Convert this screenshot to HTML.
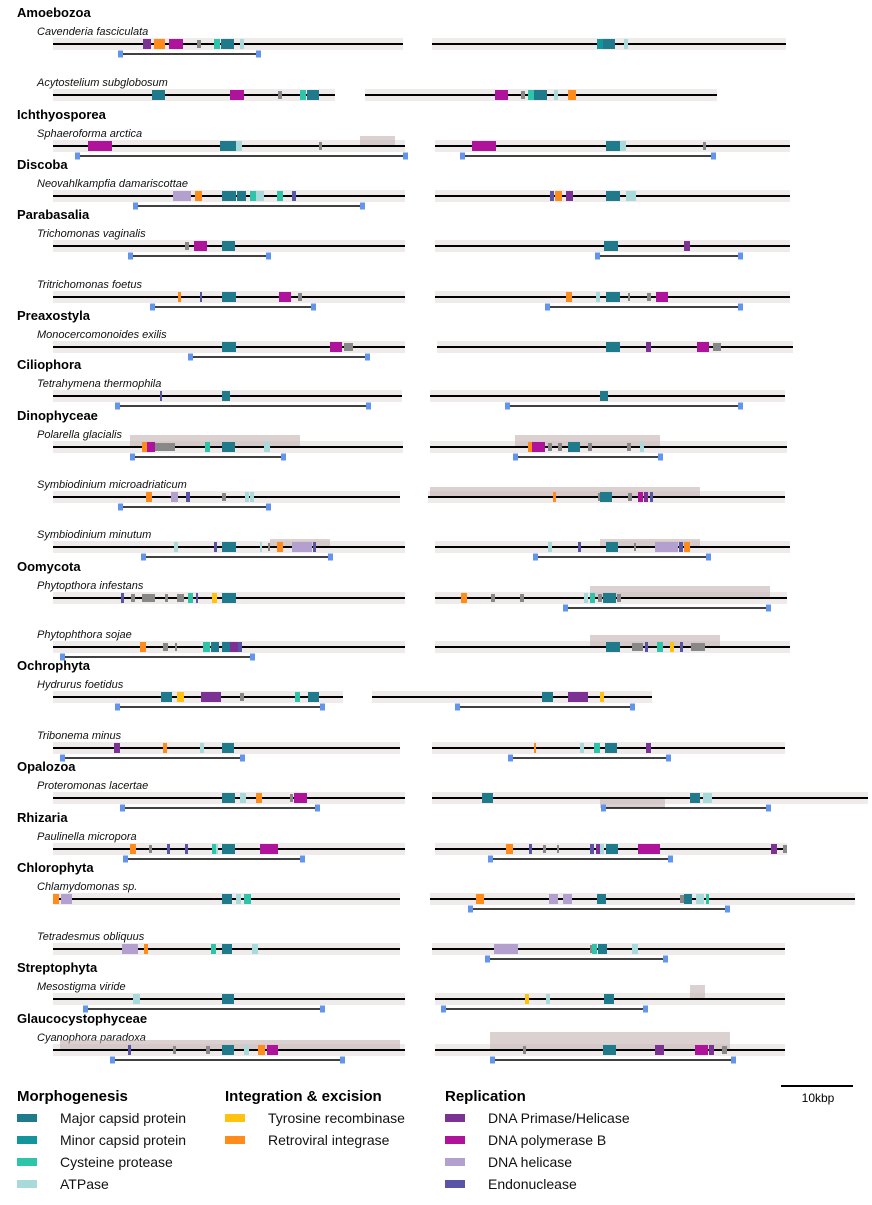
<!DOCTYPE html>
<html><head><meta charset="utf-8"><style>
body{margin:0;background:#fff;font-family:"Liberation Sans",Arial,sans-serif}
svg text{font-family:"Liberation Sans",Arial,sans-serif}
</style></head><body>
<svg id="fig" width="872" height="1200" xmlns="http://www.w3.org/2000/svg"></svg>
<script>
const colors={M:'#1f7a8c',m:'#14959b',C:'#2ec4aa',A:'#a8dadc',T:'#ffc20e',I:'#ff8c1a',P:'#7b3294',B:'#b0139b',H:'#b3a0cf',E:'#5a54a6',G:'#888888'};
const groups=['Amoebozoa','','Ichthyosporea','Discoba','Parabasalia','','Preaxostyla','Ciliophora','Dinophyceae','','','Oomycota','','Ochrophyta','','Opalozoa','Rhizaria','Chlorophyta','','Streptophyta','Glaucocystophyceae'];
const species=['Cavenderia fasciculata','Acytostelium subglobosum','Sphaeroforma arctica','Neovahlkampfia damariscottae','Trichomonas vaginalis','Tritrichomonas foetus','Monocercomonoides exilis','Tetrahymena thermophila','Polarella glacialis','Symbiodinium microadriaticum','Symbiodinium minutum','Phytopthora infestans','Phytophthora sojae','Hydrurus foetidus','Tribonema minus','Proteromonas lacertae','Paulinella micropora','Chlamydomonas sp.','Tetradesmus obliquus','Mesostigma viride','Cyanophora paradoxa'];
const lineY=[44,95,146,196,246,297,347,396,447,497,547,598,647,697,748,798,849,899,949,999,1050];
const leftExt=[[53,403],[53,335],[53,405],[53,405],[53,405],[53,405],[53,405],[53,402],[53,403],[53,400],[53,405],[53,405],[53,405],[53,343],[53,400],[53,405],[53,405],[53,400],[53,400],[53,405],[53,405]];
const rightExt=[[432,786],[365,717],[435,790],[435,790],[435,790],[435,790],[437,793],[430,785],[430,787],[428,785],[435,790],[435,787],[435,790],[372,652],[432,785],[432,868],[435,787],[430,855],[432,785],[435,785],[435,785]];
const brackets=[[[120,258]],[],[[77,405],[462,713]],[[135,362]],[[130,268],[597,740]],[[152,313],[547,740]],[[190,367]],[[117,368],[507,740]],[[132,283],[515,660]],[[120,268]],[[143,330],[535,708]],[[565,768]],[[62,252]],[[117,322],[457,632]],[[62,242],[510,668]],[[122,317],[603,768]],[[125,302],[490,670]],[[470,727]],[[487,665]],[[85,322],[443,645]],[[112,342],[492,733]]];
const dense=[[],[],[[360,395,10]],[],[],[],[],[],[[130,300,12],[515,660,12]],[[430,700,10]],[[270,330,8],[600,700,8]],[[590,770,12]],[[590,720,12]],[],[],[[600,665,-10]],[],[],[],[[690,705,14]],[[60,400,10],[490,730,18]]];
const genes=[
[[143,151,'P'],[154,165,'I'],[169,183,'B'],[197,201,'G'],[214,220,'C'],[221,234,'M'],[240,244,'A'],[597,603,'m'],[603,615,'M'],[624,628,'A']],
[[152,165,'M'],[230,244,'B'],[278,282,'G'],[300,306,'C'],[307,319,'M'],[495,508,'B'],[521,525,'G'],[528,534,'C'],[534,547,'M'],[554,558,'A'],[568,576,'I']],
[[88,112,'B'],[220,236,'M'],[236,242,'A'],[319,322,'G'],[472,496,'B'],[606,620,'M'],[620,626,'A'],[703,706,'G']],
[[173,191,'H'],[195,202,'I'],[222,236,'M'],[237,246,'M'],[250,256,'C'],[256,264,'A'],[277,283,'C'],[292,296,'E'],[550,554,'E'],[555,562,'I'],[566,573,'P'],[606,620,'M'],[626,636,'A']],
[[185,189,'G'],[194,207,'B'],[222,235,'M'],[604,618,'M'],[684,690,'P']],
[[178,181,'I'],[200,202,'E'],[222,236,'M'],[279,291,'B'],[298,302,'G'],[566,572,'I'],[596,600,'A'],[606,620,'M'],[628,630,'G'],[647,651,'G'],[656,668,'B']],
[[222,236,'M'],[330,342,'B'],[344,353,'G'],[606,620,'M'],[646,651,'P'],[697,709,'B'],[713,721,'G']],
[[160,162,'E'],[222,230,'M'],[600,608,'M']],
[[142,147,'I'],[147,155,'B'],[155,175,'G'],[205,210,'C'],[222,235,'M'],[264,270,'A'],[528,532,'I'],[532,545,'B'],[548,552,'G'],[558,562,'G'],[568,580,'M'],[588,592,'G'],[627,631,'G'],[640,644,'A']],
[[146,152,'I'],[171,178,'H'],[186,190,'E'],[222,226,'G'],[245,249,'A'],[250,254,'A'],[553,556,'I'],[598,600,'G'],[600,612,'M'],[628,632,'G'],[638,643,'B'],[644,648,'P'],[650,653,'E']],
[[174,178,'A'],[214,217,'E'],[222,236,'M'],[260,262,'A'],[268,270,'G'],[277,283,'I'],[292,312,'H'],[313,316,'E'],[548,552,'A'],[578,581,'E'],[606,618,'M'],[634,636,'G'],[655,678,'H'],[679,683,'E'],[684,690,'I']],
[[121,124,'E'],[131,135,'G'],[142,155,'G'],[165,168,'G'],[177,184,'G'],[188,193,'C'],[196,198,'E'],[212,217,'T'],[222,236,'M'],[461,467,'I'],[491,495,'G'],[520,524,'G'],[584,588,'A'],[590,595,'C'],[598,602,'G'],[603,616,'M'],[617,621,'G']],
[[140,146,'I'],[163,168,'G'],[175,177,'G'],[203,210,'C'],[211,219,'M'],[222,230,'M'],[230,238,'P'],[238,242,'E'],[606,620,'M'],[632,643,'G'],[645,648,'E'],[657,663,'C'],[670,674,'T'],[680,683,'E'],[691,705,'G']],
[[161,172,'M'],[177,184,'T'],[201,221,'P'],[240,244,'G'],[295,300,'C'],[308,319,'M'],[542,553,'M'],[568,588,'P'],[600,604,'T']],
[[114,120,'P'],[163,167,'I'],[200,204,'A'],[222,234,'M'],[534,536,'I'],[580,584,'A'],[594,600,'C'],[605,617,'M'],[646,651,'P']],
[[222,235,'M'],[240,246,'A'],[256,262,'I'],[290,293,'G'],[294,307,'B'],[482,493,'M'],[690,700,'M'],[703,712,'A']],
[[130,136,'I'],[149,152,'G'],[167,170,'E'],[185,188,'E'],[212,216,'C'],[216,218,'A'],[222,235,'M'],[260,278,'B'],[506,513,'I'],[529,532,'E'],[543,546,'G'],[557,559,'G'],[590,594,'E'],[596,600,'P'],[600,604,'A'],[606,618,'M'],[638,660,'B'],[771,777,'P'],[783,787,'G']],
[[53,59,'I'],[61,72,'H'],[222,232,'M'],[236,241,'A'],[244,251,'C'],[476,484,'I'],[549,558,'H'],[563,572,'H'],[597,606,'M'],[680,684,'G'],[684,692,'M'],[696,704,'A'],[706,709,'C']],
[[122,138,'H'],[144,148,'I'],[211,216,'C'],[222,232,'M'],[252,258,'A'],[494,518,'H'],[590,592,'G'],[592,597,'C'],[598,607,'M'],[632,638,'A']],
[[133,140,'A'],[222,234,'M'],[525,529,'T'],[546,550,'A'],[604,614,'M']],
[[128,131,'E'],[173,176,'G'],[206,210,'G'],[222,234,'M'],[244,249,'A'],[258,265,'I'],[267,278,'B'],[523,526,'G'],[603,616,'M'],[655,664,'P'],[695,708,'B'],[709,714,'P'],[722,727,'G']]
];
const NS='http://www.w3.org/2000/svg';
const svg=document.getElementById('fig');
function mk(tag,attrs,parent){const e=document.createElementNS(NS,tag);for(const k in attrs)e.setAttribute(k,attrs[k]);(parent||svg).appendChild(e);return e;}
for(let i=0;i<species.length;i++){
  const y=lineY[i];
  const g=mk('g',{});
  
  
  if(groups[i]){const t=mk('text',{x:17,y:y-27,'font-size':13,'font-weight':'bold',fill:'#000'},g);t.textContent=groups[i];
    
    }
  const s=mk('text',{x:37,y:y-9,'font-size':11,'font-style':'italic',fill:'#111'},g);s.textContent=species[i];
  
  
  [leftExt[i],rightExt[i]].forEach(ext=>{
    const c=mk('rect',{x:ext[0],y:y-6,width:ext[1]-ext[0],height:12,fill:'#cbbcbc',opacity:0.3},g);
    
    
  });
  dense[i].forEach(d=>{
    const h=d[2];const c=mk('rect',{x:d[0],y:h>0?y-h:y,width:d[1]-d[0],height:Math.abs(h),fill:'#c4b3b3',opacity:0.6},g);
    
    
  });
  [leftExt[i],rightExt[i]].forEach(ext=>{
    const l=mk('line',{x1:ext[0],x2:ext[1],y1:y,y2:y,stroke:'#000','stroke-width':2},g);
    
    
  });
  genes[i].forEach(ge=>{
    const isG=ge[2]==='G';const h=isG?8:10;
    const r=mk('rect',{x:ge[0],y:y-h/2,width:ge[1]-ge[0],height:h,fill:colors[ge[2]]},g);
    
    
  });
  brackets[i].forEach(b=>{
    const by=y+10;
    const l=mk('line',{x1:b[0],x2:b[1],y1:by,y2:by,stroke:'#000','stroke-width':1.5},g);
    
    
    [b[0]-2,b[1]-2].forEach(x=>{const e=mk('rect',{x:x,y:by-3.5,width:5,height:7,fill:'#6495ed'},g);
      
      });
  });
}
const legCols=[
 {title:'Morphogenesis',x:17,items:[['M','Major capsid protein'],['m','Minor capsid protein'],['C','Cysteine protease'],['A','ATPase']]},
 {title:'Integration & excision',x:225,items:[['T','Tyrosine recombinase'],['I','Retroviral integrase']]},
 {title:'Replication',x:445,items:[['P','DNA Primase/Helicase'],['B','DNA polymerase B'],['H','DNA helicase'],['E','Endonuclease']]}
];
legCols.forEach(col=>{
  const g=mk('g',{});
  
  
  const t=mk('text',{x:col.x,y:1101,'font-size':15,'font-weight':'bold'},g);t.textContent=col.title;
  col.items.forEach((it,j)=>{
    const yy=1119+j*22;
    const r=mk('rect',{x:col.x,y:yy-5,width:20,height:8,fill:colors[it[0]]},g);
    
    
    const tx=mk('text',{x:col.x+43,y:yy+4,'font-size':14,fill:'#111'},g);tx.textContent=it[1];
    
    
  });
});
const sb=mk('line',{x1:781,x2:853,y1:1086,y2:1086,stroke:'#000','stroke-width':2});


const sbt=mk('text',{x:818,y:1102,'font-size':12,'text-anchor':'middle'});sbt.textContent='10kbp';


</script>
</body></html>
